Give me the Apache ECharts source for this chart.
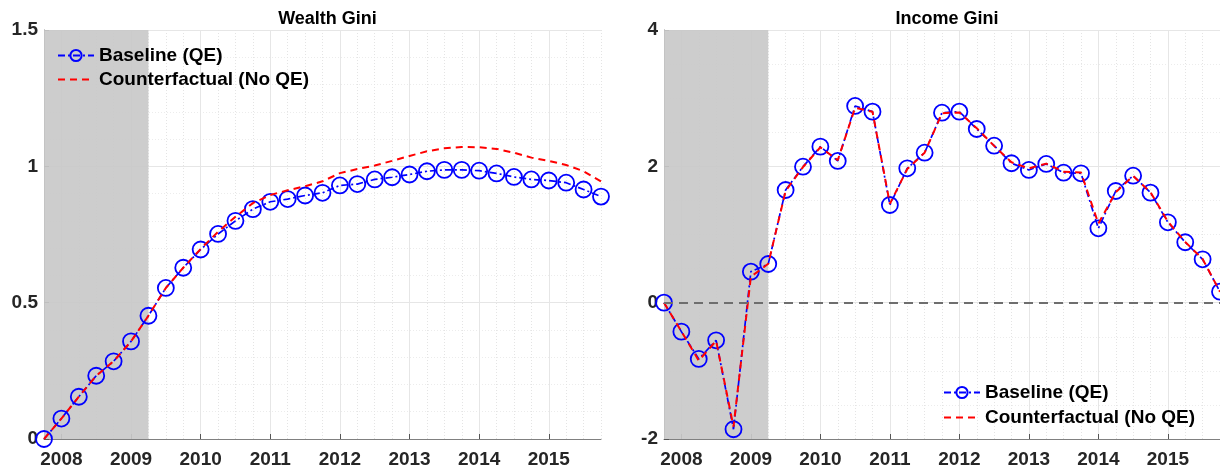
<!DOCTYPE html>
<html><head><meta charset="utf-8">
<script src="https://cdn.jsdelivr.net/npm/echarts@6/dist/echarts.min.js"></script>
<style>html,body{margin:0;padding:0;background:#fff}#c{width:1220px;height:470px}</style>
</head><body><div id="c"></div><script>
// Quarterly dates (decimal years)
const quarters = [2007.75, 2008.0, 2008.25, 2008.5, 2008.75, 2009.0, 2009.25, 2009.5, 2009.75,
  2010.0, 2010.25, 2010.5, 2010.75, 2011.0, 2011.25, 2011.5, 2011.75,
  2012.0, 2012.25, 2012.5, 2012.75, 2013.0, 2013.25, 2013.5, 2013.75,
  2014.0, 2014.25, 2014.5, 2014.75, 2015.0, 2015.25, 2015.5, 2015.75];
const yearLabels = [2008, 2009, 2010, 2011, 2012, 2013, 2014, 2015];
const recession = [2007.75, 2009.25];

const wealthBaseline = [0, 0.075, 0.155, 0.232, 0.285, 0.358, 0.452, 0.554, 0.628,
  0.695, 0.752, 0.800, 0.843, 0.870, 0.880, 0.893, 0.903,
  0.930, 0.935, 0.952, 0.960, 0.970, 0.982, 0.987, 0.987,
  0.984, 0.974, 0.961, 0.952, 0.948, 0.940, 0.915, 0.889];
const wealthCounterfactual = [0, 0.075, 0.155, 0.232, 0.285, 0.358, 0.452, 0.554, 0.628,
  0.697, 0.760, 0.815, 0.865, 0.895, 0.912, 0.927, 0.945,
  0.975, 0.990, 1.003, 1.020, 1.038, 1.055, 1.066, 1.071,
  1.070, 1.064, 1.050, 1.032, 1.020, 1.005, 0.982, 0.945];

const incomeBaseline = [0, -0.425, -0.826, -0.552, -1.857, 0.455, 0.567, 1.653, 1.995,
  2.289, 2.079, 2.886, 2.802, 1.433, 1.971, 2.200, 2.787,
  2.802, 2.548, 2.303, 2.045, 1.947, 2.035, 1.907, 1.898,
  1.091, 1.638, 1.863, 1.614, 1.179, 0.886, 0.636, 0.161];
const incomeCounterfactual = [0, -0.420, -0.850, -0.560, -1.820, 0.380, 0.570, 1.640, 1.990,
  2.280, 2.090, 2.860, 2.800, 1.450, 1.960, 2.200, 2.780,
  2.790, 2.560, 2.300, 2.060, 1.970, 2.040, 1.920, 1.910,
  1.160, 1.620, 1.860, 1.620, 1.190, 0.890, 0.640, 0.160];

const wealthTicks = {min: 0, max: 1.5, interval: 0.5, minor: 5};
const incomeTicks = {min: -2, max: 4, interval: 2, minor: 4};

const FONT = '"Liberation Sans", Arial, Helvetica, sans-serif';
const BLUE = '#0000ff', RED = '#ff0000';
const pairs = (xs, ys) => xs.map((x, i) => [x, ys[i]]);

const grids = [
  {left: 44, top: 30, width: 557, height: 409},
  {left: 664, top: 30, width: 556, height: 409}
];

function xAxesFor(gi) {
  return [
    { // quarter grid (minor dotted)
      type: 'value', gridIndex: gi, min: quarters[0], max: quarters[quarters.length - 1], interval: 0.25,
      position: 'bottom',
      axisLine: {show: true, onZero: false, lineStyle: {color: '#808080', width: 1}},
      axisTick: {show: false}, axisLabel: {show: false},
      splitLine: {show: true, lineStyle: {color: '#e4e4e4', width: 1, type: [1, 2]}}
    },
    { // year ticks and labels
      type: 'value', gridIndex: gi, min: quarters[0], max: quarters[quarters.length - 1], splitNumber: 8,
      position: 'bottom',
      axisLine: {show: false, onZero: false},
      axisTick: {show: true, inside: true, length: 5, lineStyle: {color: '#555'},
        customValues: yearLabels},
      axisLabel: {show: true, margin: 11, color: '#262626', fontSize: 19, fontWeight: 'bold', fontFamily: FONT,
        customValues: yearLabels,
        formatter: v => (Math.abs(v - Math.round(v)) < 1e-6 ? String(Math.round(v)) : '')},
      splitLine: {show: true, lineStyle: {color: '#e6e6e6', width: 1}}
    }
  ];
}

function yAxisFor(gi, t) {
  return {
    type: 'value', gridIndex: gi, min: t.min, max: t.max, interval: t.interval,
    axisLine: {show: true, lineStyle: {color: '#808080', width: 1}},
    axisTick: {show: true, inside: true, length: 5, lineStyle: {color: '#555'}},
    axisLabel: {margin: 6, color: '#262626', fontSize: 19, fontWeight: 'bold', fontFamily: FONT},
    splitLine: {show: true, lineStyle: {color: '#e6e6e6', width: 1}},
    minorTick: {show: false, splitNumber: t.minor},
    minorSplitLine: {show: true, lineStyle: {color: '#ececec', width: 1, type: [1, 2]}}
  };
}

function baseSeries(gi, data, extra) {
  return Object.assign({
    name: 'Baseline (QE)', type: 'line', xAxisIndex: gi * 2, yAxisIndex: gi,
    data: data, symbol: 'circle', symbolSize: 16, showSymbol: true,
    lineStyle: {color: BLUE, width: 1.7, type: [7, 3, 2, 3]},
    itemStyle: {color: 'rgba(0,0,0,0)', borderColor: BLUE, borderWidth: 1.8},
    z: 3, animation: false
  }, extra || {});
}
function cfSeries(gi, data) {
  return {
    name: 'Counterfactual (No QE)', type: 'line', xAxisIndex: gi * 2, yAxisIndex: gi,
    data: data, symbol: 'none', showSymbol: false,
    lineStyle: {color: RED, width: 2, type: [7, 5]},
    itemStyle: {color: RED},
    z: 4, animation: false
  };
}

const shade = {
  silent: true,
  itemStyle: {color: '#c9c9c9', opacity: 0.92},
  data: [[{xAxis: recession[0]}, {xAxis: recession[1]}]]
};

const legendText = {fontSize: 19, fontWeight: 'bold', color: '#000', fontFamily: FONT};
const legendData = [
  {name: 'Baseline (QE)'},
  {name: 'Counterfactual (No QE)', itemStyle: {color: 'rgba(0,0,0,0)', borderWidth: 0, opacity: 0}}
];

const option = {
  animation: false,
  backgroundColor: '#fff',
  title: [
    {text: 'Wealth Gini', left: 322.5, textAlign: 'center', top: 5,
      textStyle: {fontSize: 18, fontWeight: 'bold', color: '#000', fontFamily: FONT}},
    {text: 'Income Gini', left: 942, textAlign: 'center', top: 5,
      textStyle: {fontSize: 18, fontWeight: 'bold', color: '#000', fontFamily: FONT}}
  ],
  grid: grids,
  legend: [
    {orient: 'vertical', left: 57, top: 46, padding: 0, itemWidth: 36, itemHeight: 14, itemGap: 5,
      textStyle: legendText, data: legendData, selectedMode: false},
    {orient: 'vertical', left: 943, top: 383, padding: 0, itemWidth: 36, itemHeight: 14, itemGap: 6,
      textStyle: legendText, data: legendData, selectedMode: false}
  ],
  xAxis: xAxesFor(0).concat(xAxesFor(1)),
  yAxis: [yAxisFor(0, wealthTicks), yAxisFor(1, incomeTicks)],
  series: [
    baseSeries(0, pairs(quarters, wealthBaseline), {markArea: shade}),
    cfSeries(0, pairs(quarters, wealthCounterfactual)),
    baseSeries(1, pairs(quarters, incomeBaseline), {
      markArea: shade,
      markLine: {silent: true, symbol: 'none', label: {show: false},
        lineStyle: {color: '#6e6e6e', width: 2, type: [9, 6]},
        data: [{yAxis: 0}]}
    }),
    cfSeries(1, pairs(quarters, incomeCounterfactual))
  ]
};

const chart = echarts.init(document.getElementById('c'), null, {renderer: 'canvas'});
chart.setOption(option);
</script></body></html>
